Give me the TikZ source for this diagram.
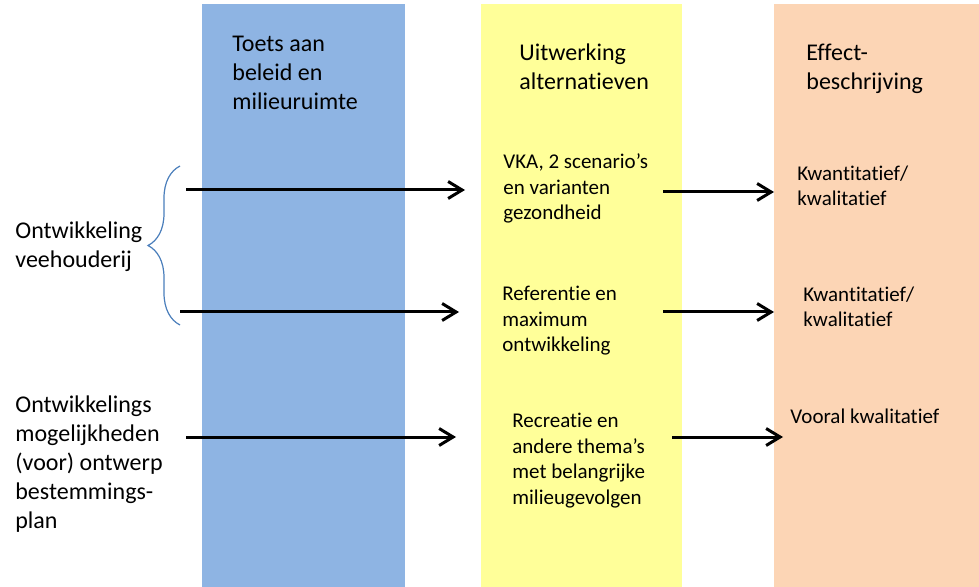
\documentclass[tikz,border=0pt]{standalone}
\usepackage{fontspec}
\setmainfont[Ligatures=NoCommon,Contextuals=NoAlternate]{Carlito}
\usetikzlibrary{arrows.meta,decorations.pathreplacing}
\definecolor{kolblauw}{HTML}{8EB4E3}
\definecolor{kolgeel}{HTML}{FFFF99}
\definecolor{koloranje}{HTML}{FCD5B5}
\definecolor{accolade}{HTML}{4A7EBB}

\begin{document}
\begin{tikzpicture}[x=0.5pt,y=-0.5pt,>={Straight Barb[length=7pt,width=8.5pt]},
groot/.style = {anchor=base west, inner sep=0pt, align=left, font=\fontsize{12}{14.5}\selectfont},
klein/.style = {anchor=base west, inner sep=0pt, align=left, font=\fontsize{10.5}{12.75}\selectfont},
pijl/.style = {->, line width=1.5pt},]
\useasboundingbox (0,0) rectangle (979,587);
\fill[kolblauw] (202,4) rectangle (405,587);
\fill[kolgeel] (481,4) rectangle (682,587);
\fill[koloranje] (774,4) rectangle (979,587);
% nodes staan op de basislijn van hun laatste regel
\node (toets) at (232,110)[groot] {Toets aan\\beleid en\\milieuruimte};
\node (uitw) at (519,90)[groot] {Uitwerking\\alternatieven};
\node (effect) at (806,90)[groot] {Effect-\\beschrijving};
\node (veeh) at (15,268)[groot] {Ontwikkeling\\veehouderij};
\node (mogel) at (15,528)[groot] {Ontwikkelings\\mogelijkheden\\(voor) ontwerp\\bestemmings-\\plan};
\node (vka) at (503,220)[klein] {VKA, 2 scenario’s\\en varianten\\gezondheid};
\node (ref) at (502,352)[klein] {Referentie en\\maximum\\ontwikkeling};
\node (recr) at (512,504)[klein] {Recreatie en\\andere thema’s\\met belangrijke\\milieugevolgen};
\node (kw1) at (797,206)[klein] {Kwantitatief/\\kwalitatief};
\node (kw2) at (803,327)[klein] {Kwantitatief/\\kwalitatief};
\node (kw3) at (790,423)[klein] {Vooral kwalitatief};
\coordinate (b1) at (180,325);
\coordinate (b2) at (180,166);
\draw[accolade, line width=0.6pt, decorate, decoration={brace,amplitude=16pt}] (b1)--(b2);
\coordinate (l1) at (186,190);
\coordinate (m1) at (465,190);
\coordinate (l2) at (180,312);
\coordinate (m2) at (459,312);
\coordinate (l3) at (186,437);
\coordinate (m3) at (456,437);
\coordinate (n1) at (663,192);
\coordinate (r1) at (774,192);
\coordinate (n2) at (663,312);
\coordinate (r2) at (774,312);
\coordinate (n3) at (672,437);
\coordinate (r3) at (783,437);
\draw[pijl] (l1)--(m1);
\draw[pijl] (l2)--(m2);
\draw[pijl] (l3)--(m3);
\draw[pijl] (n1)--(r1);
\draw[pijl] (n2)--(r2);
\draw[pijl] (n3)--(r3);
\end{tikzpicture}
\end{document}
